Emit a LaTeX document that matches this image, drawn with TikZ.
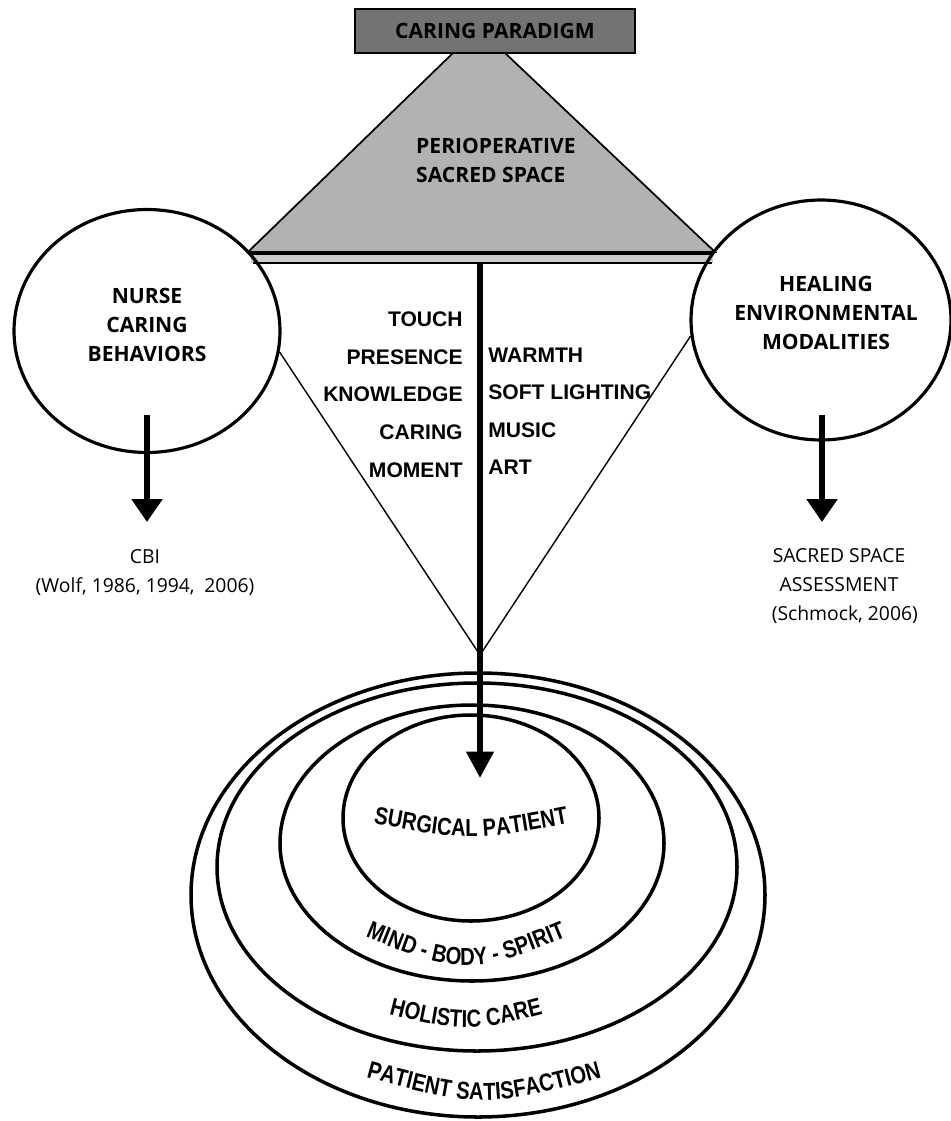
\documentclass[tikz,border=0pt]{standalone}
\usepackage{fontspec}
\setmainfont{Open Sans}
\newfontfamily\helv{Liberation Sans}
\newfontfamily\helvn[FakeStretch=0.82]{Liberation Sans}
\usepackage{tikz}
\usetikzlibrary{shapes, arrows.meta, positioning, calc, decorations.text}

\newcommand{\curvefont}{\helvn\bfseries\fontsize{14}{16}\selectfont}

\tikzset{
  circ/.style={ellipse, draw, line width=1.8pt, minimum width=5.32cm, minimum height=4.86cm},
  headtext/.style={align=center, font=\bfseries\fontsize{12}{16.5}\selectfont},
  item/.style={font=\helv\bfseries\fontsize{12}{14}\selectfont, inner sep=0pt},
  cite/.style={align=center, font=\fontsize{11}{16.5}\selectfont},
  bigarrow/.style={line width=3pt, -{Triangle[length=13pt, width=17pt]}},
  ring/.style={line width=2pt},
  curved/.style={decorate, decoration={text along path, text align=center, text={#1}}}
}

\begin{document}
\begin{tikzpicture}[x=0.02cm, y=-0.02cm]
        \useasboundingbox (0,0) rectangle (950,1121);

        % caring paradigm and sacred space
        \draw[line width=1pt, fill=black!30] (453,53) -- (505,53) -- (715,252) -- (248,252) -- cycle;
        \fill[black!20] (251,253) rectangle (713,263);
        \draw[line width=0.6pt] (253,263) -- (712,263);
        \draw[line width=1.6pt] (249,254) -- (714,254);
        \node[draw, line width=1pt, fill=black!55, minimum width=5.6cm, minimum height=0.88cm,
              font=\bfseries\fontsize{12}{14}\selectfont] (paradigm) at (495,31) {CARING PARADIGM};
        \node[headtext, align=left, anchor=west] (sacred) at (410,160) {PERIOPERATIVE\\SACRED SPACE};

        % the two circles
        \node[circ] (nurse) at (147,331) {};
        \node[headtext] (nursetext) at (147,325) {NURSE\\CARING\\BEHAVIORS};
        \node[circ, minimum width=5.2cm, minimum height=4.8cm] (heal) at (821,320) {};
        \node[headtext] (healtext) at (826,313) {HEALING\\ENVIRONMENTAL\\MODALITIES};

        \coordinate (meet) at (480,655);
        \draw[line width=0.8pt] (nurse.-9) -- (meet) -- (heal.187);

        % word lists
        \node[item, anchor=east] (touch) at (463,319) {TOUCH};
        \node[item, anchor=east] (presence) at (463,357) {PRESENCE};
        \node[item, anchor=east] (knowledge) at (463,394) {KNOWLEDGE};
        \node[item, anchor=east] (caring) at (463,432) {CARING};
        \node[item, anchor=east] (moment) at (463,470) {MOMENT};
        \node[item, anchor=west] (warmth) at (488,355) {WARMTH};
        \node[item, anchor=west] (lighting) at (488,392) {SOFT LIGHTING};
        \node[item, anchor=west] (music) at (488,430) {MUSIC};
        \node[item, anchor=west] (art) at (488,467) {ART};

        % instruments
        \coordinate (nursefoot) at (147,415);
        \coordinate (nursetip) at (147,522);
        \coordinate (healfoot) at (822,415);
        \coordinate (healtip) at (822,522);
        \draw[bigarrow] (nursefoot) -- (nursetip);
        \draw[bigarrow] (healfoot) -- (healtip);
        \node[cite] (cbi) at (145,573) {CBI\\(Wolf, 1986, 1994,\enspace 2006)};
        \node[cite] (ssa) at (839,586) {SACRED SPACE\\ASSESSMENT\\\hspace{0.6em}(Schmock, 2006)};

        % outcome rings
        \draw[ring] (478,895) ellipse [x radius=287, y radius=222];
        \draw[ring] (477,867) ellipse [x radius=260, y radius=184];
        \draw[ring] (472,843) ellipse [x radius=192, y radius=138];
        \draw[ring] (471,818) ellipse [x radius=128, y radius=103];

        \path[curved={|\curvefont|SURGICAL PATIENT}] (355,820) .. controls (471,842) .. (587,820);
        \path[curved={|\curvefont|MIND - BODY - SPIRIT}] (338,925) .. controls (466,979) .. (594,925);
        \path[curved={|\curvefont|HOLISTIC CARE}] (354,1005) .. controls (466,1035) .. (578,1005);
        \path[curved={|\curvefont|PATIENT SATISFACTION}] (340,1070) .. controls (484,1110) .. (628,1070);

        \coordinate (top) at (480,263);
        \coordinate (tip) at (480,778);
        \draw[line width=3.4pt, -{Triangle[length=15pt, width=15pt]}] (top) -- (tip);
    \end{tikzpicture}
\end{document}
